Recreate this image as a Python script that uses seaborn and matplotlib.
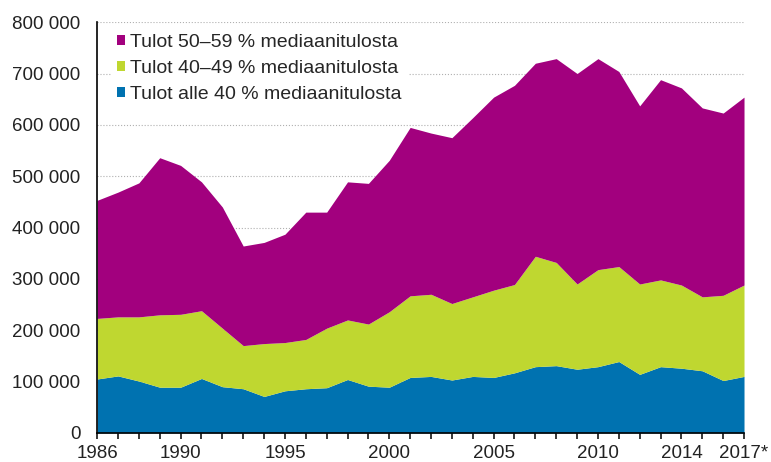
import numpy as np
import pandas as pd
import matplotlib
matplotlib.use("Agg")
import matplotlib.pyplot as plt
from matplotlib.ticker import FuncFormatter, FixedLocator, MultipleLocator
import seaborn as sns

# Data (thousands of persons)
years = list(range(1986, 2018))
alle_40 = [105, 111, 101, 89, 89, 106, 90, 86, 71, 82, 86, 88, 104, 91, 89, 108,
           110, 103, 110, 108, 117, 129, 131, 124, 129, 139, 114, 129, 126, 121, 102, 110]
tulot_40_49 = [118, 115, 125, 141, 142, 132, 114, 84, 103, 94, 96, 116, 116, 121, 147, 159,
               160, 149, 155, 170, 172, 215, 201, 166, 189, 185, 176, 169, 162, 144, 166, 178]
tulot_50_59 = [230, 243, 261, 306, 290, 251, 236, 194, 197, 211, 248, 226, 269, 274, 295, 328,
               314, 323, 349, 376, 388, 376, 397, 410, 411, 380, 347, 390, 384, 368, 355, 366]

labels = ["Tulot alle 40 % mediaanitulosta",
          "Tulot 40\u201349 % mediaanitulosta",
          "Tulot 50\u201359 % mediaanitulosta"]
colors = ["#0072b0", "#bfd730", "#a2007e"]
tick_years = [1986, 1990, 1995, 2000, 2005, 2010, 2014, 2017]
tick_labels = ["1986", "1990", "1995", "2000", "2005", "2010", "2014", "2017*"]

df = pd.DataFrame({
    "vuosi": years,
    labels[0]: np.array(alle_40) * 1000,
    labels[1]: np.array(tulot_40_49) * 1000,
    labels[2]: np.array(tulot_50_59) * 1000,
})

sns.set_style("white")
plt.rcParams["font.family"] = ["Liberation Sans", "DejaVu Sans"]

fig = plt.figure(figsize=(7.71, 4.62), dpi=100)
ax = fig.add_axes([0.126, 0.063, 0.839, 0.889])

ax.stackplot(df["vuosi"], df[labels[0]], df[labels[1]], df[labels[2]],
             colors=colors, labels=labels, linewidth=0, zorder=2)

ax.set_xlim(1986, 2017)
ax.set_ylim(0, 800000)
ax.yaxis.set_major_locator(MultipleLocator(100000))
ax.yaxis.set_major_formatter(FuncFormatter(lambda v, p: f"{int(v):,}".replace(",", " ")))
ax.grid(axis="y", color="#b0b0b0", linestyle=":", linewidth=0.8, zorder=0)
ax.set_axisbelow(True)

ax.xaxis.set_major_locator(FixedLocator(tick_years))
ax.set_xticklabels(tick_labels)
ax.xaxis.set_minor_locator(MultipleLocator(1))
ax.tick_params(axis="x", which="both", direction="out", length=4.5, width=1.1,
               color="black", bottom=True, labelsize=13.5, pad=4, labelcolor="#222222")
ax.tick_params(axis="y", length=0, labelsize=13.5, pad=12, labelcolor="#222222")

for s in ["top", "right"]:
    ax.spines[s].set_visible(False)
for s in ["left", "bottom"]:
    ax.spines[s].set_color("black")
    ax.spines[s].set_linewidth(1.2)

handles, labs = ax.get_legend_handles_labels()
leg = ax.legend(handles[::-1], labs[::-1], loc="upper left", bbox_to_anchor=(0.022, 0.985),
                frameon=True, fancybox=False, edgecolor="none", facecolor="white",
                framealpha=1, fontsize=14, handlelength=0.42, handleheight=0.42,
                handletextpad=0.25, labelspacing=0.45, borderpad=0.3, borderaxespad=0)

fig.savefig("out.png", dpi=100)
